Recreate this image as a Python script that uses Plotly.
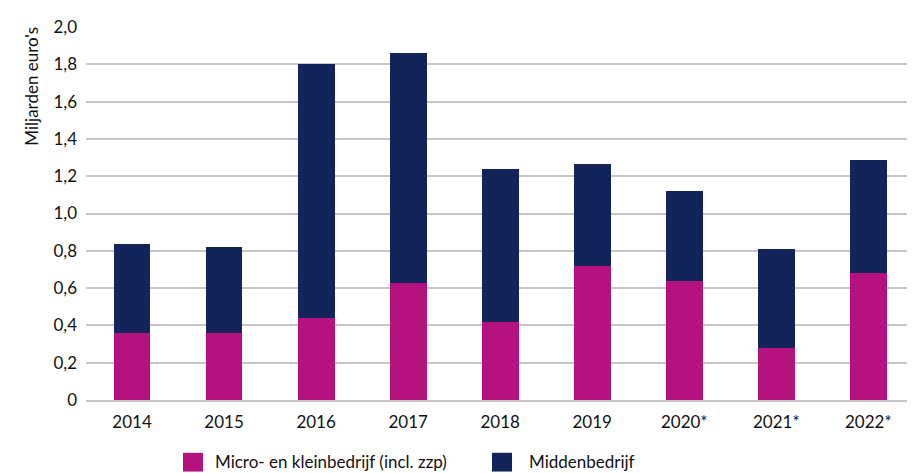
import plotly.graph_objects as go

years = ["2014", "2015", "2016", "2017", "2018", "2019", "2020*", "2021*", "2022*"]
micro_klein = [0.36, 0.36, 0.44, 0.63, 0.42, 0.72, 0.64, 0.28, 0.68]
midden = [0.475, 0.46, 1.36, 1.23, 0.82, 0.545, 0.48, 0.53, 0.605]
y_ticks = [0, 0.2, 0.4, 0.6, 0.8, 1.0, 1.2, 1.4, 1.6, 1.8, 2.0]
y_tick_labels = ["0", "0,2", "0,4", "0,6", "0,8", "1,0", "1,2", "1,4", "1,6", "1,8", "2,0"]
series_names = ["Micro- en kleinbedrijf (incl. zzp)", "Middenbedrijf"]

PINK = "#B5127F"
NAVY = "#13245B"
FONT = "Lato, Noto Sans, sans-serif"

fig = go.Figure()
fig.add_trace(go.Bar(x=years, y=micro_klein, name=series_names[0], marker_color=PINK,
                     marker_line_width=0, width=0.4, showlegend=False))
fig.add_trace(go.Bar(x=years, y=midden, name=series_names[1], marker_color=NAVY,
                     marker_line_width=0, width=0.4, showlegend=False))

# page has an 8px body margin; figure coordinates are page coordinates minus 8
OFF = 8
W, H = 915 - OFF, 473 - OFF
ml, mr, mt, mb = 86 - OFF, 8, 22.5 - OFF, 72.5
pw, ph = W - ml - mr, H - mt - mb

def px(x):
    return (x - OFF - ml) / pw

def py(y):
    return (H - mb - (y - OFF)) / ph

shapes = []
annotations = []
for name, color, x0, tx in [(series_names[0], PINK, 183, 213), (series_names[1], NAVY, 492, 527)]:
    shapes.append(dict(type="rect", xref="paper", yref="paper", x0=px(x0), x1=px(x0 + 20),
                       y0=py(473), y1=py(454), fillcolor=color, line_width=0, layer="above"))
    annotations.append(dict(text=name, xref="paper", yref="paper", x=px(tx), y=py(463),
                            xanchor="left", yanchor="middle", showarrow=False,
                            font=dict(family=FONT, size=17, color="#111111")))

annotations.append(dict(text="Miljarden euro's", xref="paper", yref="paper", x=px(32), y=py(83),
                        xanchor="center", yanchor="middle", textangle=-90, showarrow=False,
                        font=dict(family=FONT, size=17, color="#111111")))

fig.update_layout(
    width=W, height=H,
    barmode="stack",
    margin=dict(l=ml, r=mr, t=mt, b=mb, pad=0),
    plot_bgcolor="white", paper_bgcolor="white",
    font=dict(family=FONT, size=17, color="#111111"),
    shapes=shapes, annotations=annotations,
    xaxis=dict(range=[-0.5, 8.42], showgrid=False, showline=True, linecolor="#c6c6c6",
               linewidth=2, ticks="", tickfont=dict(size=17), ticklabelstandoff=6),
    yaxis=dict(range=[0, 2.0], tickvals=y_ticks, ticktext=y_tick_labels, showgrid=True,
               gridcolor="#c6c6c6", gridwidth=1.5, zeroline=False, showline=False,
               ticks="", tickfont=dict(size=17), ticklabelstandoff=8),
)

fig.write_html("out.html")
